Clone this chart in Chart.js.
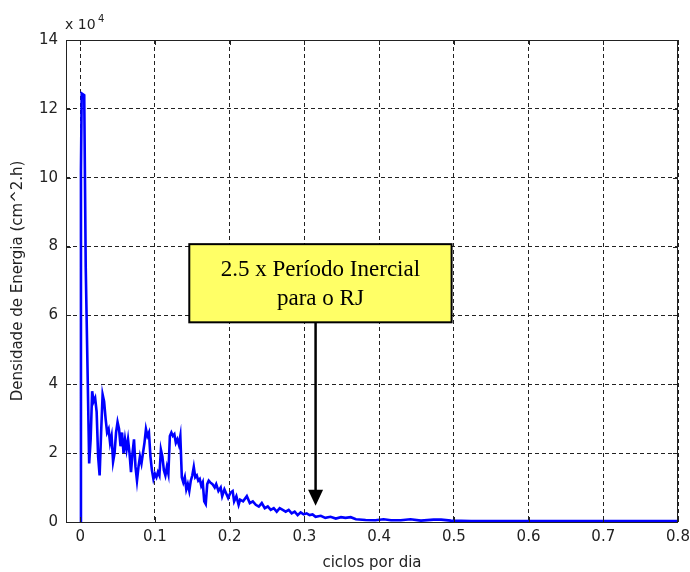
<!DOCTYPE html>
<html>
<head>
<meta charset="utf-8">
<script src="https://cdn.jsdelivr.net/npm/chart.js@4/dist/chart.umd.min.js"></script>
<style>
  html, body { margin: 0; padding: 0; background: #fff; }
  #wrap { width: 690px; height: 572px; }
</style>
</head>
<body>
<div id="wrap"><canvas id="grafico"></canvas></div>
<script>
// frequencia (ciclos por dia)
const freq = [
  0, 0.001, 0.002, 0.0054, 0.0074, 0.0087, 0.0101,
  0.012, 0.014, 0.016, 0.018, 0.020, 0.022, 0.024, 0.026, 0.028, 0.030,
  0.032, 0.034, 0.036, 0.038, 0.040, 0.042, 0.044, 0.046, 0.048, 0.050,
  0.052, 0.054, 0.056, 0.058, 0.060, 0.062, 0.064, 0.066, 0.068, 0.070,
  0.072, 0.074, 0.076, 0.078, 0.080, 0.082, 0.084, 0.086, 0.088, 0.090,
  0.092, 0.094, 0.096, 0.098, 0.100, 0.102, 0.104, 0.106, 0.108, 0.110,
  0.112, 0.114, 0.116, 0.118, 0.120, 0.122, 0.124, 0.126, 0.128, 0.130,
  0.132, 0.134, 0.136, 0.138, 0.140, 0.142, 0.144, 0.146, 0.148, 0.150,
  0.152, 0.154, 0.156, 0.158, 0.160, 0.162, 0.164, 0.166, 0.168, 0.170,
  0.172, 0.174, 0.177, 0.180, 0.182, 0.185, 0.188, 0.190, 0.193, 0.196,
  0.198, 0.201, 0.204, 0.206, 0.209, 0.212, 0.214, 0.218, 0.223, 0.227,
  0.231, 0.235, 0.239, 0.243, 0.247, 0.251, 0.255, 0.259, 0.263, 0.267,
  0.271, 0.275, 0.279, 0.283, 0.287, 0.291, 0.295, 0.299, 0.303, 0.307,
  0.311, 0.315, 0.322, 0.328, 0.335, 0.342, 0.349, 0.355, 0.362, 0.369,
  0.382, 0.395, 0.406, 0.416, 0.429, 0.442, 0.456, 0.473, 0.483, 0.496,
  0.523, 0.6, 0.7, 0.8
];

// densidade de energia (cm^2.h)
const energia = [
  0, 102000, 124500, 124000, 74000, 58000, 41000,
  17000, 24000, 38000, 35000, 36000, 32000, 19000, 13500, 26000, 37000,
  35000, 30000, 26000, 27000, 23000, 25000, 17500, 20000, 26000, 29000,
  27000, 22000, 26000, 20000, 24000, 21000, 24000, 20000, 14500, 20000,
  24000, 16000, 12000, 16000, 19000, 17000, 20000, 23000, 27000, 25000,
  26000, 19000, 15000, 12500, 14000, 13000, 14500, 13500, 21000, 19000,
  15000, 13500, 16000, 14000, 25000, 26000, 25000, 25500, 23000, 24000,
  22500, 25000, 13000, 11500, 13000, 9500, 11000, 9000, 12000, 13500,
  16000, 13000, 13500, 12000, 12500, 10500, 11500, 6000, 5200, 11000,
  12000, 11500, 11000, 10000, 11000, 9000, 10000, 7500, 9500, 8000,
  7000, 8500, 9000, 6000, 7500, 5000, 6500, 6000, 7500, 5500,
  6000, 5000, 4500, 5500, 4000, 4500, 3500, 4000, 3000, 4000,
  3500, 3000, 3500, 2500, 3000, 2000, 2800, 2200, 2500, 2000,
  2200, 1500, 1800, 1200, 1500, 1000, 1400, 1200, 1400, 800,
  600, 500, 800, 500, 500, 800, 400, 700, 700, 400,
  300, 300, 300, 300
];

const xTicks = [0, 0.1, 0.2, 0.3, 0.4, 0.5, 0.6, 0.7, 0.8];
const yTicks = [0, 20000, 40000, 60000, 80000, 100000, 120000, 140000];

const nota = ['2.5 x Período Inercial', 'para o RJ'];
const notaSeta = 0.315; // ciclos por dia

const fonte = '"DejaVu Sans", Verdana, sans-serif';

// moldura, marcas internas, expoente e caixa de texto
const estiloMatlab = {
  id: 'estiloMatlab',
  afterDatasetsDraw(chart) {
    const { ctx, chartArea: a, scales: { x, y } } = chart;
    ctx.save();
    ctx.strokeStyle = '#222';
    ctx.lineWidth = 1;
    ctx.setLineDash([]);
    ctx.strokeRect(a.left + 0.5, a.top + 0.5, a.right - a.left - 1, a.bottom - a.top);
    ctx.beginPath();
    xTicks.forEach(v => {
      const px = Math.round(x.getPixelForValue(v)) + 0.5;
      ctx.moveTo(px, a.bottom); ctx.lineTo(px, a.bottom - 5);
      ctx.moveTo(px, a.top); ctx.lineTo(px, a.top + 5);
    });
    yTicks.forEach(v => {
      const py = Math.round(y.getPixelForValue(v)) + 0.5;
      ctx.moveTo(a.left, py); ctx.lineTo(a.left + 5, py);
      ctx.moveTo(a.right, py); ctx.lineTo(a.right - 5, py);
    });
    ctx.stroke();

    // x 10^4
    ctx.fillStyle = '#222';
    ctx.font = '14px ' + fonte;
    ctx.textBaseline = 'alphabetic';
    ctx.fillText('x 10', a.left - 1, a.top - 11);
    ctx.font = '10px ' + fonte;
    ctx.fillText('4', a.left + 32, a.top - 18);

    // caixa amarela com seta
    const bx1 = x.getPixelForValue(0.146), bx2 = x.getPixelForValue(0.497);
    const by1 = y.getPixelForValue(80700), by2 = y.getPixelForValue(58000);
    const ax = x.getPixelForValue(notaSeta);
    const tip = y.getPixelForValue(4700);
    ctx.strokeStyle = '#000';
    ctx.lineWidth = 2.5;
    ctx.beginPath();
    ctx.moveTo(ax, by2); ctx.lineTo(ax, tip - 14);
    ctx.stroke();
    ctx.fillStyle = '#000';
    ctx.beginPath();
    ctx.moveTo(ax - 7.5, tip - 16); ctx.lineTo(ax + 7.5, tip - 16); ctx.lineTo(ax, tip);
    ctx.closePath(); ctx.fill();

    ctx.fillStyle = '#ffff66';
    ctx.fillRect(bx1, by1, bx2 - bx1, by2 - by1);
    ctx.lineWidth = 2;
    ctx.strokeRect(bx1, by1, bx2 - bx1, by2 - by1);
    ctx.fillStyle = '#000';
    ctx.font = '23px "Liberation Serif", "Times New Roman", serif';
    ctx.textAlign = 'center';
    ctx.textBaseline = 'middle';
    const cx = (bx1 + bx2) / 2;
    ctx.fillText(nota[0], cx, by1 + 26);
    ctx.fillText(nota[1], cx, by1 + 55);
    ctx.restore();
  }
};

new Chart(document.getElementById('grafico'), {
  type: 'line',
  data: {
    datasets: [{
      data: freq.map((f, i) => ({ x: f, y: energia[i] })),
      borderColor: '#0000ff',
      borderWidth: 2.6,
      pointRadius: 0,
      tension: 0,
      fill: false
    }]
  },
  options: {
    responsive: true,
    maintainAspectRatio: false,
    animation: false,
    layout: { padding: { top: 40, right: 12, left: 0, bottom: 0 } },
    plugins: { legend: { display: false }, tooltip: { enabled: false } },
    scales: {
      x: {
        type: 'linear',
        min: -0.019,
        max: 0.8,
        afterBuildTicks: s => { s.ticks = xTicks.map(v => ({ value: v })); },
        afterFit: s => { s.height = 50; s.paddingRight = 0; s.paddingLeft = 0; },
        grid: { color: '#222', lineWidth: 1, drawTicks: false },
        border: { display: false, dash: [4, 3] },
        ticks: {
          color: '#222', font: { family: fonte, size: 15 }, padding: 6,
          maxRotation: 0, autoSkip: false,
          callback: v => v === 0 ? '0' : v.toFixed(1)
        },
        title: {
          display: true, text: 'ciclos por dia', color: '#222',
          font: { family: fonte, size: 15 }, padding: { top: 1, bottom: 0 }
        }
      },
      y: {
        min: 0,
        max: 140000,
        afterBuildTicks: s => { s.ticks = yTicks.map(v => ({ value: v })); },
        afterFit: s => { s.width = 66; s.paddingTop = 0; s.paddingBottom = 0; },
        grid: { color: '#222', lineWidth: 1, drawTicks: false },
        border: { display: false, dash: [4, 3] },
        ticks: {
          color: '#222', font: { family: fonte, size: 15 }, padding: 8,
          callback: v => String(v / 10000)
        },
        title: {
          display: true, text: 'Densidade de Energia (cm^2.h)', color: '#222',
          font: { family: fonte, size: 15 }, padding: { top: 9, bottom: 0 }
        }
      }
    }
  },
  plugins: [estiloMatlab]
});
</script>
</body>
</html>
